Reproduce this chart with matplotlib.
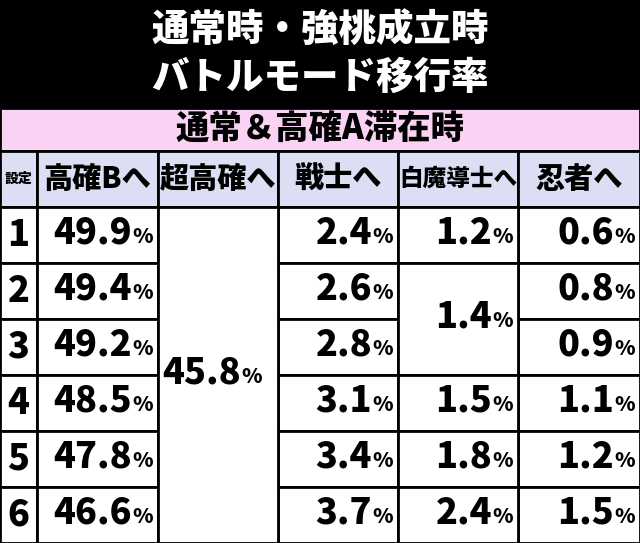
import matplotlib
matplotlib.use("Agg")
import matplotlib.pyplot as plt
from matplotlib.patches import Rectangle

plt.rcParams['font.family'] = ['Noto Sans CJK JP', 'DejaVu Sans']

title_lines = ["通常時・強桃成立時", "バトルモード移行率"]
subtitle = "通常＆高確A滞在時"
headers = ["設定", "高確Bへ", "超高確へ", "戦士へ", "白魔導士へ", "忍者へ"]
settings = ["1", "2", "3", "4", "5", "6"]
to_kakuB = ["49.9", "49.4", "49.2", "48.5", "47.8", "46.6"]
to_chokaku = "45.8"
to_senshi = ["2.4", "2.6", "2.8", "3.1", "3.4", "3.7"]
to_shiro = ["1.2", "1.4", "1.4", "1.5", "1.8", "2.4"]
to_ninja = ["0.6", "0.8", "0.9", "1.1", "1.2", "1.5"]

W, H = 640, 543
fig = plt.figure(figsize=(W/100, H/100), dpi=100)
ax = fig.add_axes([0, 0, 1, 1])
ax.set_xlim(0, W); ax.set_ylim(H, 0); ax.axis('off')
FW = 'black'

cols = [0, 37, 158, 278, 398, 518, 640]
title_bot = 108
sub_bot = 151
head_bot = 207
row_h = (H - head_bot) / 6
rows = [head_bot + i*row_h for i in range(7)]

ax.add_patch(Rectangle((0, 0), W, title_bot, color='black'))
ax.text(W/2, 31, title_lines[0], color='white', fontsize=27, fontweight=FW, ha='center', va='center')
ax.text(W/2, 78, title_lines[1], color='white', fontsize=27, fontweight=FW, ha='center', va='center')

ax.add_patch(Rectangle((0, title_bot), W, sub_bot-title_bot, facecolor='#f9d2f4', edgecolor='black', lw=2))
ax.text(W/2, (title_bot+sub_bot)/2, subtitle, fontsize=24, fontweight=FW, ha='center', va='center')

for i, h in enumerate(headers):
    x0, x1 = cols[i], cols[i+1]
    ax.add_patch(Rectangle((x0, sub_bot), x1-x0, head_bot-sub_bot, facecolor='#dcdff4', edgecolor='black', lw=2))
    fs = 10 if i == 0 else (17 if i == 4 else 21)
    ax.text((x0+x1)/2, (sub_bot+head_bot)/2, h, fontsize=fs, fontweight=FW, ha='center', va='center')

def cell(c, r0, r1):
    ax.add_patch(Rectangle((cols[c], rows[r0]), cols[c+1]-cols[c], rows[r1]-rows[r0], facecolor='white', edgecolor='black', lw=2))

def pct(c, r0, r1, val, center=False):
    y = (rows[r0] + rows[r1]) / 2 + 2
    if center:
        xr = (cols[c] + cols[c+1]) / 2 + 44
    else:
        xr = cols[c+1] - 5
    ax.text(xr, y + 6, "%", fontsize=15, fontweight=FW, ha='right', va='baseline')
    ax.text(xr - 21, y + 6, val, fontsize=26, fontweight=FW, ha='right', va='baseline')

for r in range(6):
    cell(0, r, r+1)
    ax.text((cols[0]+cols[1])/2, (rows[r]+rows[r+1])/2, settings[r], fontsize=26, fontweight=FW, ha='center', va='center')
    cell(1, r, r+1); pct(1, r, r+1, to_kakuB[r])
    cell(3, r, r+1); pct(3, r, r+1, to_senshi[r])
    cell(5, r, r+1); pct(5, r, r+1, to_ninja[r])
cell(2, 0, 6); pct(2, 0, 6, to_chokaku, center=True)
cell(4, 0, 1); pct(4, 0, 1, to_shiro[0])
cell(4, 1, 3); pct(4, 1, 3, to_shiro[1])
for r in range(3, 6):
    cell(4, r, r+1); pct(4, r, r+1, to_shiro[r])

fig.savefig("out.png", dpi=100)
